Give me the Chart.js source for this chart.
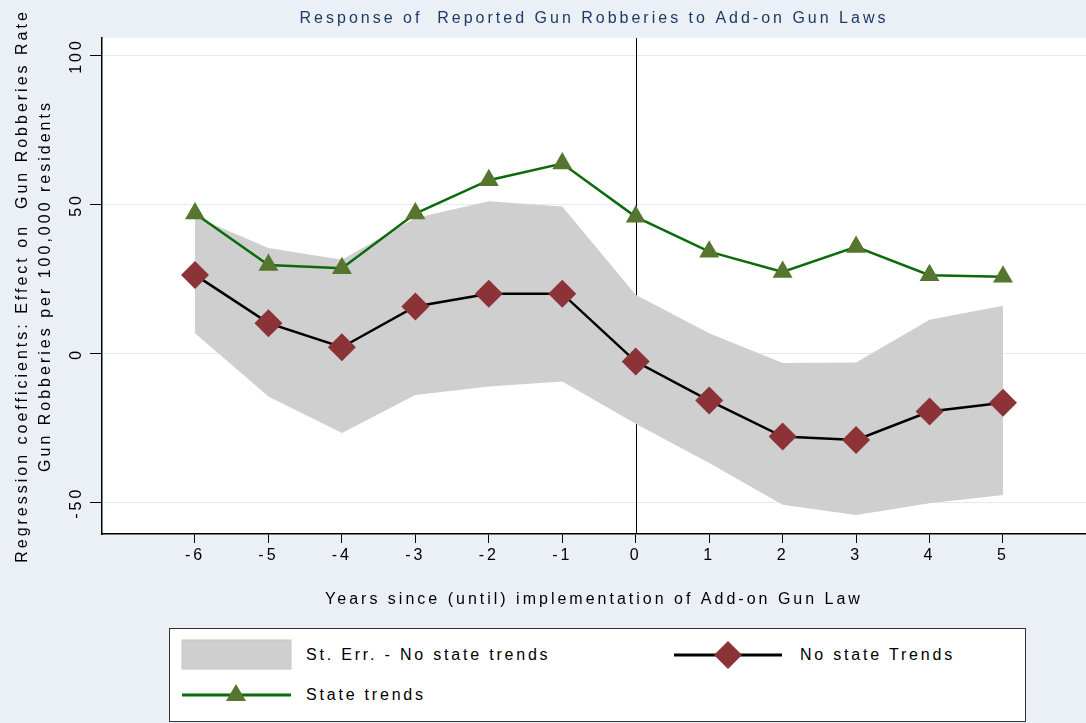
<!DOCTYPE html>
<html>
<head>
<meta charset="utf-8">
<script src="https://cdn.jsdelivr.net/npm/chart.js@4.4.1/dist/chart.umd.min.js"></script>
<style>
  html, body { margin: 0; padding: 0; background: #eaf0f5; }
  #wrap { position: relative; width: 1086px; height: 723px; overflow: hidden; }
  #chart { position: absolute; left: 0; top: 0; }
  #legend {
    position: absolute; left: 169px; top: 628px; width: 857px; height: 94px;
    box-sizing: border-box; background: #fff; border: 1.5px solid #333;
    font-family: "Liberation Sans", Arial, sans-serif; font-size: 16px;
    letter-spacing: 2.8px; color: #000;
  }
  #legend svg { position: absolute; left: 0; top: 0; }
  .lbl { position: absolute; line-height: 20px; white-space: nowrap; }
</style>
</head>
<body>
<div id="wrap">
  <canvas id="chart" width="1086" height="723"></canvas>
  <div id="legend">
    <svg width="857" height="94">
      <rect x="12" y="11" width="109" height="29" fill="#cfcfcf" stroke="#c6c6c6" stroke-width="1"/>
      <line x1="504" y1="26" x2="612" y2="26" stroke="#000" stroke-width="3"/>
      <polygon points="544,26 558,12 572,26 558,40" fill="#8c3338"/>
      <line x1="12" y1="66" x2="121" y2="66" stroke="#0b6b0b" stroke-width="3"/>
      <polygon points="66,55 76,72 56,72" fill="#56752e"/>
    </svg>
    <span class="lbl" style="left:136px; top:16px">St. Err. - No state trends</span>
    <span class="lbl" style="left:630px; top:16px">No state Trends</span>
    <span class="lbl" style="left:136px; top:56px">State trends</span>
  </div>
</div>
<script>
const years      = [-6, -5, -4, -3, -2, -1, 0, 1, 2, 3, 4, 5]
const noTrend    = [26.5, 10.3, 2.2, 15.9, 20.2, 20.2, -2.6, -15.7, -27.8, -28.9, -19.4, -16.4]
const seUpper    = [46.1, 35.5, 31.6, 45.6, 51.2, 49.5, 19.8, 6.9, -3.1, -2.9, 11.4, 16.1]
const seLower    = [6.9, -14.3, -26.6, -13.8, -11.0, -9.3, -23.5, -36.7, -50.7, -54.1, -50.2, -47.4]
const stateTrend = [47.1, 29.8, 28.7, 47.1, 58.3, 63.9, 46.0, 34.3, 27.5, 35.9, 26.4, 25.9]
const xTicks     = [-6, -5, -4, -3, -2, -1, 0, 1, 2, 3, 4, 5]
const yTicks     = [-50, 0, 50, 100]

const family    = "'Liberation Sans', Arial, sans-serif"
const font      = { family, size: 16, lineHeight: 1.2 }
const gridColor = "#e3eaf1"
const points    = arr => years.map((x, i) => ({ x, y: arr[i] }))

const stataLook = {
  id: "stataLook",
  beforeLayout(chart) {
    chart.ctx.letterSpacing = "3px"
  },
  beforeDraw(chart) {
    const { ctx, chartArea: a } = chart
    ctx.letterSpacing = "3px"
    ctx.save()
    ctx.fillStyle = "#fff"
    ctx.fillRect(a.left, a.top, a.right - a.left, a.bottom - a.top)
    ctx.restore()
  },
  // vertical line at year 0, under the shaded band
  beforeDatasetsDraw(chart) {
    const { ctx, chartArea: a, scales: { x } } = chart
    const px = Math.round(x.getPixelForValue(0)) + 0.5
    ctx.save()
    ctx.strokeStyle = "#000"
    ctx.lineWidth = 1
    ctx.beginPath()
    ctx.moveTo(px, a.top)
    ctx.lineTo(px, a.bottom)
    ctx.stroke()
    ctx.restore()
  }
}

new Chart(document.getElementById("chart"), {
  type: "line",
  data: {
    datasets: [
      {
        label: "St. Err. - No state trends",
        data: points(seUpper),
        borderColor: "transparent",
        borderWidth: 0,
        pointRadius: 0,
        backgroundColor: "#cfcfcf",
        fill: "+1",
        order: 5
      },
      {
        label: "lower",
        data: points(seLower),
        borderColor: "transparent",
        borderWidth: 0,
        pointRadius: 0,
        fill: false,
        order: 5
      },
      {
        label: "No state Trends",
        data: points(noTrend),
        borderColor: "#000",
        borderWidth: 2.5,
        pointStyle: "rectRot",
        pointRadius: 14,
        pointBackgroundColor: "#8c3338",
        pointBorderWidth: 0,
        fill: false,
        order: 2
      },
      {
        label: "State trends",
        data: points(stateTrend),
        borderColor: "#0b6b0b",
        borderWidth: 2.5,
        pointStyle: "triangle",
        pointRadius: 11.5,
        pointBackgroundColor: "#56752e",
        pointBorderWidth: 0,
        fill: false,
        order: 1
      }
    ]
  },
  options: {
    responsive: false,
    animation: false,
    layout: { autoPadding: false, padding: { left: 0, right: 0, top: 0, bottom: 99 } },
    plugins: {
      legend: { display: false },
      tooltip: { enabled: false },
      title: {
        display: true,
        fullSize: false,
        text: "Response of  Reported Gun Robberies to Add-on Gun Laws",
        color: "#1e3a64",
        font: { family, size: 16, weight: "normal", lineHeight: 1.2 },
        padding: { top: 9, bottom: 9.8 }
      }
    },
    scales: {
      x: {
        type: "linear",
        min: -7.266,
        max: 6.13,
        afterBuildTicks: s => { s.ticks = xTicks.map(v => ({ value: v })) },
        afterFit: s => { s.height = 90 },
        grid:   { drawOnChartArea: false, tickColor: "#000", tickLength: 9 },
        border: { color: "#000", width: 1.5 },
        ticks:  { color: "#000", font, padding: 3, maxRotation: 0, autoSkip: false },
        title:  {
          display: true,
          text: "Years since (until) implementation of Add-on Gun Law",
          color: "#000",
          font,
          padding: { top: 0, bottom: 14.4 }
        }
      },
      y: {
        min: -60.5,
        max: 106.04,
        afterBuildTicks: s => { s.ticks = yTicks.map(v => ({ value: v })) },
        afterFit: s => { s.width = 102 },
        grid:   { color: gridColor, tickColor: "#000", tickLength: 12 },
        border: { color: "#000", width: 1.5 },
        ticks:  { color: "#000", font, minRotation: 90, maxRotation: 90, crossAlign: "center", padding: -4 },
        title:  {
          display: true,
          text: ["Regression coefficients: Effect on  Gun Robberies Rate", "Gun Robberies per 100,000 residents"],
          color: "#000",
          font: { family, size: 16, lineHeight: 1.45 },
          padding: { top: 10.5, bottom: 0 }
        }
      }
    }
  },
  plugins: [stataLook]
})
</script>
</body>
</html>
